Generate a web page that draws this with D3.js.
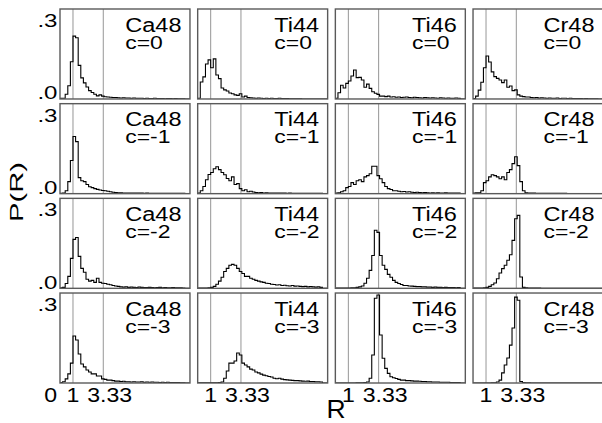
<!DOCTYPE html>
<html>
<head>
<meta charset="utf-8">
<script src="https://cdn.jsdelivr.net/npm/d3@7"></script>
<style>
  html, body { margin: 0; padding: 0; background: #fff; }
  text { font-family: "Liberation Sans", Arial, Helvetica, sans-serif; fill: #000; }
</style>
</head>
<body>
<svg id="chart" width="602" height="423"></svg>
<script>
// ---- data ----
const nuclei = ["Ca48", "Ti44", "Ti46", "Cr48"];
const couplings = ["c=0", "c=-1", "c=-2", "c=-3"];
const binWidth = 0.2;            // histogram bin width in R
const refLines = [1, 3.33];      // vertical reference lines
const xTickLabels = ["1", "3.33"];
const yTickLabels = [".3", ".0"];
const yTickValues = [0.3, 0];

// P(R) per bin, bins start at R = 0
const ca48_c0 = [0.003,0.003,0.02,0.055,0.155,0.262,0.255,0.14,0.088,0.067,0.05,0.035,0.027,0.02,0.013,0.017,0.012,0.009,0.008,0.007,0.006,0.006,0.005,0.004,0.005,0.004,0.004,0.003,0.004,0.003,0.003,0.003,0.002,0.003,0.002,0.002,0.003,0.002,0.002,0.002,0.001,0.002,0.002,0.001,0.002,0.001,0.001,0.001];
const ca48_c1 = [0.001,0.002,0.012,0.05,0.138,0.238,0.217,0.067,0.054,0.05,0.038,0.029,0.025,0.021,0.018,0.015,0.013,0.012,0.01,0.008,0.006,0.005,0.004,0.004,0.003,0.003,0.003,0.002,0.002,0.002,0.002,0.002,0.001,0.002,0.001,0.001,0.001,0.001,0.001,0.001,0.001,0.001,0.001,0.001,0.001,0.001,0.001,0.001];
const ca48_c2 = [0.002,0.004,0.02,0.05,0.125,0.204,0.212,0.133,0.083,0.067,0.038,0.03,0.033,0.025,0.042,0.025,0.021,0.02,0.017,0.015,0.012,0.01,0.008,0.006,0.005,0.006,0.004,0.005,0.004,0.003,0.005,0.004,0.003,0.003,0.004,0.003,0.002,0.003,0.004,0.002,0.003,0.002,0.002,0.003,0.002,0.002,0.002,0.001];
const ca48_c3 = [0.002,0.005,0.017,0.038,0.083,0.196,0.179,0.121,0.079,0.067,0.054,0.046,0.038,0.038,0.029,0.029,0.017,0.015,0.012,0.012,0.01,0.008,0.008,0.006,0.007,0.005,0.005,0.004,0.005,0.004,0.004,0.005,0.003,0.004,0.003,0.004,0.003,0.003,0.002,0.003,0.002,0.003,0.002,0.002,0.002,0.002,0.001,0.001];

const ti44_c0 = [0.003,0.071,0.092,0.146,0.163,0.13,0.167,0.1,0.085,0.046,0.038,0.033,0.025,0.022,0.017,0.015,0.022,0.008,0.012,0.006,0.005,0.004,0.003,0.004,0.003,0.002,0.003,0.002,0.003,0.002,0.002,0.003,0.002,0.002,0.002,0.001,0.001,0.001,0.001,0.001,0,0,0,0,0,0,0,0];
const ti44_c1 = [0.002,0.012,0.03,0.058,0.08,0.088,0.104,0.112,0.1,0.088,0.079,0.063,0.054,0.07,0.038,0.042,0.021,0.012,0.016,0.008,0.01,0.007,0.005,0.004,0.005,0.003,0.004,0.003,0.003,0.002,0.003,0.002,0.002,0.002,0.001,0.002,0.001,0.001,0.001,0.001,0.001,0.001,0.001,0.001,0.001,0.001,0.001,0.001];
const ti44_c2 = [0.001,0.001,0.001,0.001,0.002,0.004,0.008,0.017,0.03,0.046,0.07,0.083,0.096,0.1,0.096,0.083,0.07,0.062,0.05,0.05,0.042,0.038,0.033,0.03,0.027,0.025,0.021,0.02,0.017,0.016,0.014,0.015,0.012,0.013,0.011,0.01,0.012,0.009,0.01,0.008,0.007,0.008,0.006,0.007,0.006,0.005,0.006,0.004];
const ti44_c3 = [0.001,0.001,0.001,0.001,0.001,0.001,0.001,0.001,0.002,0.004,0.02,0.05,0.083,0.083,0.092,0.125,0.117,0.083,0.075,0.067,0.058,0.054,0.046,0.042,0.037,0.033,0.03,0.027,0.025,0.02,0.018,0.02,0.016,0.014,0.013,0.012,0.011,0.01,0.01,0.009,0.008,0.007,0.008,0.006,0.006,0.005,0.005,0.004];

const ti46_c0 = [0.003,0.026,0.057,0.046,0.065,0.075,0.096,0.121,0.089,0.09,0.079,0.049,0.062,0.044,0.03,0.024,0.019,0.012,0.012,0.01,0.012,0.008,0.009,0.007,0.008,0.006,0.007,0.008,0.006,0.005,0.007,0.006,0.005,0.004,0.006,0.005,0.004,0.005,0.004,0.003,0.005,0.004,0.003,0.004,0.003,0.003,0.004,0.003];
const ti46_c1 = [0.002,0.004,0.008,0.012,0.025,0.03,0.046,0.038,0.054,0.058,0.05,0.07,0.075,0.083,0.114,0.114,0.075,0.062,0.046,0.03,0.021,0.017,0.012,0.012,0.01,0.008,0.009,0.007,0.008,0.006,0.005,0.006,0.005,0.004,0.005,0.004,0.003,0.004,0.003,0.004,0.003,0.003,0.004,0.003,0.002,0.003,0.002,0.002];
const ti46_c2 = [0.001,0.001,0.001,0.001,0.001,0.001,0.002,0.002,0.004,0.006,0.01,0.021,0.042,0.075,0.137,0.242,0.233,0.137,0.096,0.079,0.058,0.046,0.033,0.025,0.02,0.016,0.012,0.012,0.01,0.009,0.008,0.007,0.007,0.006,0.006,0.005,0.005,0.004,0.005,0.004,0.004,0.003,0.004,0.003,0.003,0.003,0.002,0.003];
const ti46_c3 = [0,0,0,0,0,0,0,0,0.001,0.001,0.001,0.002,0.004,0.02,0.117,0.353,0.367,0.2,0.103,0.061,0.04,0.026,0.022,0.019,0.015,0.012,0.012,0.01,0.01,0.009,0.008,0.008,0.007,0.006,0.006,0.005,0.005,0.004,0.004,0.004,0.003,0.003,0.003,0.003,0.002,0.002,0.002,0.002];

const cr48_c0 = [0.002,0.012,0.037,0.07,0.13,0.179,0.154,0.113,0.093,0.086,0.079,0.068,0.079,0.049,0.054,0.035,0.038,0.017,0.012,0.01,0.008,0.008,0.006,0.005,0.006,0.004,0.005,0.004,0.003,0.004,0.003,0.003,0.004,0.002,0.003,0.003,0.002,0.003,0.002,0.002,0.002,0.002,0.001,0.002,0.001,0.001,0.001,0.001];
const cr48_c1 = [0.002,0.004,0.004,0.012,0.046,0.054,0.07,0.079,0.075,0.07,0.062,0.07,0.058,0.088,0.1,0.125,0.154,0.117,0.05,0.012,0.004,0.002,0.002,0.002,0.001,0.001,0.001,0.001,0.001,0.001,0.001,0.001,0.001,0.001,0.001,0.001,0,0,0,0,0,0,0,0,0,0,0,0];
const cr48_c2 = [0.001,0.001,0.001,0.001,0.002,0.004,0.008,0.015,0.022,0.04,0.064,0.082,0.096,0.117,0.14,0.2,0.29,0.304,0.047,0.004,0.002,0.001,0.001,0.001,0.001,0.001,0,0,0,0,0,0,0,0,0,0,0,0,0,0,0,0,0,0,0,0,0,0];
const cr48_c3 = [0,0,0,0,0,0,0,0.001,0.001,0.004,0.012,0.042,0.075,0.104,0.158,0.229,0.358,0.345,0.006,0.002,0.001,0.001,0,0,0,0,0,0,0,0,0,0,0,0,0,0,0,0,0,0,0,0,0,0,0,0,0,0];

const series = [
  [ca48_c0, ti44_c0, ti46_c0, cr48_c0],
  [ca48_c1, ti44_c1, ti46_c1, cr48_c1],
  [ca48_c2, ti44_c2, ti46_c2, cr48_c2],
  [ca48_c3, ti44_c3, ti46_c3, cr48_c3]
];

// ---- layout ----
const svg = d3.select("#chart");
const colBand = d3.scaleBand().domain(d3.range(4)).range([60, 603]).paddingInner(0.056);
const rowBand = d3.scaleBand().domain(d3.range(4)).range([9, 383]).paddingInner(0.0496);
const pw = colBand.bandwidth(), ph = rowBand.bandwidth();

function addText(parent, x, y, str, fs, sx, anchor) {
  return parent.append("text")
    .attr("transform", `translate(${x},${y}) scale(${sx},1)`)
    .attr("font-size", fs)
    .attr("text-anchor", anchor || "start")
    .text(str);
}

const defs = svg.append("defs");

for (let r = 0; r < 4; r++) {
  for (let c = 0; c < 4; c++) {
    const x0 = colBand(c), y0 = rowBand(r);
    const x = d3.scaleLinear().domain([0, 10]).range([x0, x0 + pw]);
    const y = d3.scaleLinear().domain([0, 0.375]).range([y0 + ph, y0]);
    const id = `clip-${r}-${c}`;
    defs.append("clipPath").attr("id", id)
      .append("rect").attr("x", x0).attr("y", y0).attr("width", pw).attr("height", ph);

    const g = svg.append("g");
    const inner = g.append("g").attr("clip-path", `url(#${id})`);

    // reference lines
    inner.selectAll("line.ref").data(refLines).enter().append("line")
      .attr("x1", d => x(d)).attr("x2", d => x(d))
      .attr("y1", y0).attr("y2", y0 + ph)
      .attr("stroke", "#8a8a8a").attr("stroke-width", 0.9);

    // histogram
    const vals = series[r][c];
    const pts = [[0, 0]];
    vals.forEach((v, i) => pts.push([i * binWidth, v]));
    pts.push([vals.length * binWidth, 0]);
    pts.push([10, 0]);
    const line = d3.line().x(d => x(d[0])).y(d => y(d[1])).curve(d3.curveStepAfter);
    inner.append("path").attr("d", line(pts))
      .attr("fill", "none").attr("stroke", "#000").attr("stroke-width", 1.1);

    // frame
    g.append("rect").attr("x", x0).attr("y", y0).attr("width", pw).attr("height", ph)
      .attr("fill", "none").attr("stroke", "#5a5a5a").attr("stroke-width", 1.4);

    // labels
    const t1 = addText(g, 0, 0, nuclei[c], 20, 1.175, "start");
    const w1 = t1.node().getComputedTextLength() * 1.175;
    const lx = x0 + pw - 8.5 - w1;
    t1.attr("transform", `translate(${lx},${y0 + 22.5}) scale(1.175,1)`);
    addText(g, lx, y0 + 39.5, couplings[r], 17.5, 1.31, "start");

    // y tick labels (first column)
    if (c === 0) {
      yTickValues.forEach((v, i) => {
        if (r === 3 && v === 0) return;
        addText(svg, x0 - 2.5, y(v) + (v === 0 ? 0.5 : 0), yTickLabels[i], 18.5, 1.3, "end");
      });
    }
    // x tick labels (bottom row)
    if (r === 3) {
      if (c === 0) addText(svg, x(0) - 3, y0 + ph + 18.5, "0", 21, 1.1, "end");
      addText(svg, x(refLines[0]), y0 + ph + 18.5, xTickLabels[0], 21, 1.1, "middle");
      addText(svg, x(refLines[1]) - 16, y0 + ph + 18.5, xTickLabels[1], 21, 1.1, "start");
    }
  }
}

// axis titles
svg.append("text")
  .attr("transform", "translate(336,417.5)")
  .attr("font-size", 26.5).attr("text-anchor", "middle").text("R");
svg.append("text")
  .attr("transform", "translate(22.5,192) rotate(-90)")
  .attr("font-size", 17.5).attr("text-anchor", "middle")
  .attr("textLength", 60).attr("lengthAdjust", "spacingAndGlyphs")
  .text("P(R)");
</script>
</body>
</html>
